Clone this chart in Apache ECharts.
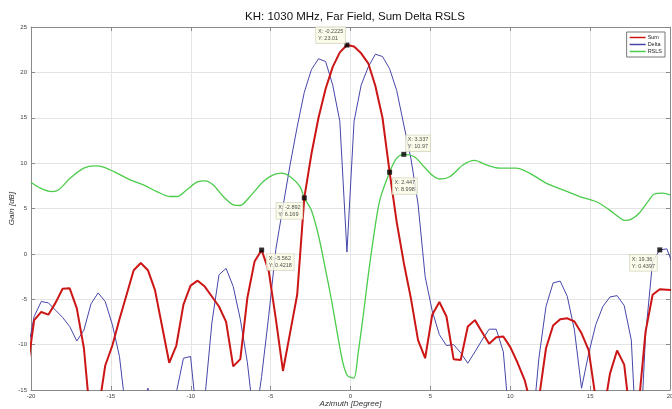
<!DOCTYPE html>
<html>
<head>
<meta charset="utf-8">
<script src="https://cdn.jsdelivr.net/npm/echarts@6/dist/echarts.min.js"></script>
<style>
  html, body { margin: 0; padding: 0; background: #fff; }
  #chart { width: 672px; height: 409px; }
</style>
</head>
<body>
<div id="chart"></div>
<script>
// sample grid of the measurement (deg), shared by Sum and Delta
var azimuth = [
  -20.2475, -19.8025, -19.3575, -18.9125, -18.4675, -18.0225, -17.5775, -17.1325, -16.6875, -16.2425,
  -15.7975, -15.3525, -14.9075, -14.4625, -14.0175, -13.5725, -13.1275, -12.6825, -12.2375, -11.7925,
  -11.3475, -10.9025, -10.4575, -10.0125, -9.5675, -9.1225, -8.6775, -8.2325, -7.7875, -7.3425,
  -6.8975, -6.4525, -6.0075, -5.5625, -5.1175, -4.6725, -4.2275, -3.7825, -3.3375, -2.8925,
  -2.4475, -2.0025, -1.5575, -1.1125, -0.6675, -0.2225,
  0.2225, 0.6675, 1.1125, 1.5575, 2.0025, 2.4475, 2.8925, 3.3375, 3.7825, 4.2275,
  4.6725, 5.1175, 5.5625, 6.0075, 6.4525, 6.8975, 7.3425, 7.7875, 8.2325, 8.6775,
  9.1225, 9.5675, 10.0125, 10.4575, 10.9025, 11.3475, 11.7925, 12.2375, 12.6825, 13.1275,
  13.5725, 14.0175, 14.4625, 14.9075, 15.3525, 15.7975, 16.2425, 16.6875, 17.1325, 17.5775,
  18.0225, 18.4675, 18.9125, 19.3575, 19.8025, 20.2475
]

var sumGain = [
  -13, -7.3, -6.4, -6.7, -5.4, -3.85, -3.8, -6.0, -10.4, -19,
  -17.5, -12.3, -10.1, -7.2, -4.5, -1.8, -1.0, -1.8, -4.0, -8.0,
  -12.0, -10.1, -5.6, -3.5, -2.95, -3.6, -4.7, -5.8, -7.5, -12.4,
  -11.6, -4.8, -0.85, 0.4218, -1.9, -7.2, -12.9, -8.7, -4.5, 6.169,
  11.0, 15.0, 18.2, 20.6, 22.2, 23.01,
  22.85, 22.1, 21.0, 18.5, 15.0, 8.998, 3.5, -1.0, -4.9, -9.5,
  -11.5, -6.7, -5.3, -6.9, -11.6, -11.7, -8.0, -7.3, -8.6, -9.9,
  -9.2, -9.1, -10.3, -12.0, -13.9, -17, -16, -10.4, -7.9, -7.2,
  -7.1, -7.45, -8.75, -10.6, -16, -18, -13.2, -10.65, -12.2, -19,
  -17, -8.6, -4.5, -3.9, -3.95, -4.0
]

var deltaGain = [
  -11, -6.9, -5.25, -5.4, -6.2, -7.0, -8.0, -9.6, -8.4, -5.5,
  -4.3, -5.25, -7.8, -11.3, -18, -22, -18, -14.8, -18, -22,
  -19, -15.3, -11.5, -11.3, -19, -16, -7.6, -2.3, -1.6, -3.6,
  -7.2, -12.0, -19, -13.5, -6.8, 0.5, 5.2, 9.8, 14.0, 17.8,
  20.3, 21.5, 21.2, 18.6, 14.6, 0.2,
  14.6, 18.6, 20.6, 22.0, 21.75, 20.4, 18.0, 14.2, 10.5, 5.5,
  -2.5, -6.3, -8.9, -10.1, -10.0, -10.9, -12.05, -10.8, -9.5, -8.3,
  -8.3, -10.8, -20, -25, -25, -20, -11.5, -5.8, -3.2, -3.0,
  -4.7, -8.4, -14.8, -11.0, -7.8, -5.8, -4.75, -4.6, -5.7, -9.5,
  -25, -9, -0.8, 0.4397, 0.55, -1.5
]

var rslsX = [
  -20.0, -19.42, -18.69, -18.27, -17.54, -16.7, -15.98, -15.46, -14.62, -13.8,
  -12.96, -12.13, -11.3, -10.87, -10.25, -9.62, -9.1, -8.59, -7.96, -7.33,
  -6.92, -6.29, -5.46, -4.84, -4.31, -3.79, -3.17, -2.892, -2.45, -2.0,
  -1.6, -1.2, -0.8, -0.5, -0.2, 0.2, 0.48, 0.79, 1.1, 1.42,
  1.83, 2.447, 2.87, 3.337, 4.0, 4.6, 5.16, 5.58, 6.21, 7.04,
  7.77, 8.5, 9.33, 10.37, 11.2, 12.25, 13.29, 14.33, 15.37, 16.2,
  16.83, 17.14, 17.56, 18.08, 18.7, 19.02, 19.54, 20.0
]
var rslsGain = [
  7.9, 7.25, 6.87, 7.06, 8.35, 9.45, 9.7, 9.55, 8.9, 8.16,
  7.6, 6.87, 6.32, 6.32, 7.06, 7.9, 8.05, 7.6, 6.32, 5.4,
  5.33, 6.32, 7.98, 8.7, 8.9, 8.53, 7.43, 6.169, 4.8, 2.0,
  -1.4, -5.0, -9.0, -11.8, -13.4, -13.7, -10.9, -6.9, -2.5, 1.55,
  5.9, 8.998, 10.5, 10.97, 10.7, 9.6, 8.6, 8.25, 8.5, 9.8,
  10.3, 9.8, 9.45, 9.45, 8.9, 7.8, 7.06, 6.32, 5.77, 4.85,
  4.0, 3.7, 3.8, 4.5, 5.96, 6.6, 6.7, 6.5
]

// data tips
var tipX = [-0.2225, -2.892, -5.562, 2.447, 3.337, 19.36]
var tipY = [23.01, 6.169, 0.4218, 8.998, 10.97, 0.4397]
// label box offset from marker centre (px)
var tipOffsets = [[-31, -18], [-28, 5], [5, 4], [3, 6], [2, -19], [-30, 5]]

function pairs(xs, ys) {
    var out = []
    for (var i = 0; i < xs.length; i++) out.push([xs[i], ys[i]])
    return out
}

var chart = echarts.init(document.getElementById('chart'), null, {renderer: 'canvas'})

var font = 'Liberation Sans, Arial, sans-serif'
var axisCol = '#8a8a8a'
var sumCol = '#cc1616'
var deltaCol = '#4646aa'
var rslsCol = '#4ccc4c'

var tipData = []
for (var i = 0; i < tipX.length; i++) {
    tipData.push({
        value: [tipX[i], tipY[i]],
        label: {position: [tipOffsets[i][0] + 2.5, tipOffsets[i][1] + 2.5]}
    })
}

var option = {
    backgroundColor: '#fff',
    animation: false,
    textStyle: {fontFamily: font},
    title: {
        text: 'KH: 1030 MHz, Far Field, Sum Delta RSLS',
        left: 350, top: 6, textAlign: 'center',
        textStyle: {fontSize: 11.5, fontWeight: 'normal', color: '#111', fontFamily: font}
    },
    legend: {
        data: [
            {name: 'Sum', icon: 'rect', itemStyle: {color: sumCol}},
            {name: 'Delta', icon: 'rect', itemStyle: {color: deltaCol}},
            {name: 'RSLS', icon: 'rect', itemStyle: {color: rslsCol}}
        ],
        orient: 'vertical', right: 7, top: 32,
        align: 'left',
        itemWidth: 16, itemHeight: 1.5, itemGap: 0,
        padding: [2, 3, 2, 3],
        borderColor: '#777', borderWidth: 1, backgroundColor: '#fff',
        textStyle: {fontSize: 5.5, lineHeight: 7, color: '#222', fontFamily: font, padding: [0, 0, 0, -3]}
    },
    grid: {left: 31, right: 2, top: 27, bottom: 19, outerBoundsMode: 'none'},
    xAxis: [{
        type: 'value', min: -20, max: 20, interval: 5,
        name: 'Azimuth [Degree]', nameLocation: 'middle', nameGap: 10, nameMoveOverlap: false,
        nameTextStyle: {fontStyle: 'italic', fontSize: 8, color: '#333'},
        axisLine: {show: true, onZero: false, lineStyle: {color: axisCol}},
        axisTick: {show: true, inside: true, length: 4, lineStyle: {color: axisCol}},
        axisLabel: {fontSize: 6, color: '#444', margin: 3},
        splitLine: {show: true, lineStyle: {color: '#e4e4e4'}}
    }, {
        type: 'value', position: 'top', min: -20, max: 20, interval: 5,
        axisLine: {show: true, onZero: false, lineStyle: {color: axisCol}},
        axisTick: {show: true, inside: true, length: 4, lineStyle: {color: axisCol}},
        axisLabel: {show: false},
        splitLine: {show: false}
    }],
    yAxis: [{
        type: 'value', min: -15, max: 25, interval: 5,
        name: 'Gain [dB]', nameLocation: 'middle', nameGap: 15, nameMoveOverlap: false,
        nameTextStyle: {fontStyle: 'italic', fontSize: 8, color: '#333'},
        axisLine: {show: true, onZero: false, lineStyle: {color: axisCol}},
        axisTick: {show: true, inside: true, length: 4, lineStyle: {color: axisCol}},
        axisLabel: {fontSize: 6, color: '#444', margin: 4},
        splitLine: {show: true, lineStyle: {color: '#e4e4e4'}}
    }, {
        type: 'value', position: 'right', min: -15, max: 25, interval: 5,
        axisLine: {show: true, onZero: false, lineStyle: {color: axisCol}},
        axisTick: {show: true, inside: true, length: 4, lineStyle: {color: axisCol}},
        axisLabel: {show: false},
        splitLine: {show: false}
    }],
    series: [{
        name: 'Sum', type: 'line', symbol: 'none', clip: true,
        data: pairs(azimuth, sumGain),
        itemStyle: {color: sumCol},
        lineStyle: {color: sumCol, width: 2}, z: 3
    }, {
        name: 'Delta', type: 'line', symbol: 'none', clip: true,
        data: pairs(azimuth, deltaGain),
        itemStyle: {color: deltaCol},
        lineStyle: {color: deltaCol, width: 1}, z: 2
    }, {
        name: 'RSLS', type: 'line', symbol: 'none', clip: true, smooth: 0.3,
        data: pairs(rslsX, rslsGain),
        itemStyle: {color: rslsCol},
        lineStyle: {color: rslsCol, width: 1.3}, z: 2
    }, {
        name: 'tips', type: 'scatter', symbol: 'rect', symbolSize: 5, z: 10,
        data: tipData,
        itemStyle: {color: '#000'},
        label: {
            show: true, align: 'left', verticalAlign: 'top',
            formatter: function (p) { return 'X: ' + p.value[0] + '\nY: ' + p.value[1] },
            fontSize: 5.5, lineHeight: 7, color: '#222', fontFamily: font,
            backgroundColor: '#fbfbe6', borderColor: '#c8c8b0', borderWidth: 0.6,
            padding: [1, 2, 1, 2]
        }
    }]
}
chart.setOption(option)
</script>
</body>
</html>
